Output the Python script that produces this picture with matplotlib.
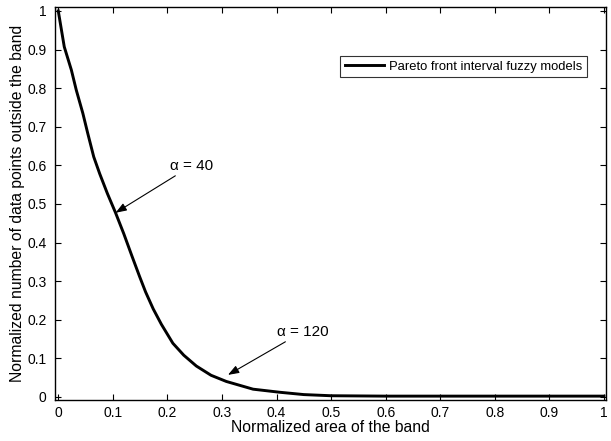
import matplotlib
matplotlib.use('Agg')
from matplotlib import pyplot as plt

plt.rcParams['font.family'] = ['Liberation Sans', 'DejaVu Sans']

# Pareto front
area = [0.0, 0.011, 0.024, 0.033, 0.045, 0.054, 0.065, 0.076, 0.090,
        0.105, 0.120, 0.135, 0.149, 0.160, 0.174, 0.189, 0.210, 0.230,
        0.253, 0.280, 0.308, 0.357, 0.406, 0.45, 0.5, 0.6, 0.7, 0.8,
        0.9, 1.0]
outside = [1.0, 0.907, 0.847, 0.795, 0.735, 0.683, 0.622, 0.578, 0.527,
           0.477, 0.423, 0.365, 0.312, 0.272, 0.228, 0.188, 0.139, 0.108,
           0.080, 0.056, 0.040, 0.020, 0.012, 0.006, 0.003, 0.002, 0.002,
           0.002, 0.002, 0.002]

ticks = [0, 0.1, 0.2, 0.3, 0.4, 0.5, 0.6, 0.7, 0.8, 0.9, 1]
tick_labels = ['0', '0.1', '0.2', '0.3', '0.4', '0.5', '0.6', '0.7', '0.8', '0.9', '1']

fig = plt.figure(figsize=(6.11, 4.41), dpi=100)
ax = fig.add_axes([0.09, 0.093, 0.902, 0.891])

ax.plot(area, outside, color='black', lw=2.1, label='Pareto front interval fuzzy models')

# annotations
arrow = dict(arrowstyle='-|>,head_length=0.6,head_width=0.22', color='black',
             lw=0.8, shrinkA=0, shrinkB=0)
ax.annotate(u'\u03b1 = 40', xy=(0.105, 0.477), xytext=(0.204, 0.58),
            fontsize=11, ha='left', va='bottom', arrowprops=arrow)
ax.annotate(u'\u03b1 = 120', xy=(0.311, 0.057), xytext=(0.40, 0.15),
            fontsize=11, ha='left', va='bottom', arrowprops=arrow)

ax.set_xlim(-0.006, 1.004)
ax.set_ylim(-0.008, 1.01)
ax.set_xticks(ticks)
ax.set_xticklabels(tick_labels)
ax.set_yticks(ticks)
ax.set_yticklabels(tick_labels)
ax.tick_params(direction='in', top=True, right=True, labelsize=10, length=4)
ax.tick_params(axis='y', pad=6)
ax.tick_params(axis='x', pad=4)
for s in ax.spines.values():
    s.set_linewidth(1.0)

ax.set_xlabel('Normalized area of the band', fontsize=11.3, labelpad=0)
ax.set_ylabel('Normalized number of data points outside the band', fontsize=11.3, labelpad=2)

leg = ax.legend(loc='upper right', bbox_to_anchor=(0.965, 0.875), fontsize=9.4,
                frameon=True, fancybox=False, handlelength=3.0, borderpad=0.35,
                handletextpad=0.4, borderaxespad=0)
leg.get_frame().set_edgecolor('black')
leg.get_frame().set_linewidth(0.8)

plt.savefig('out.png', dpi=100)
